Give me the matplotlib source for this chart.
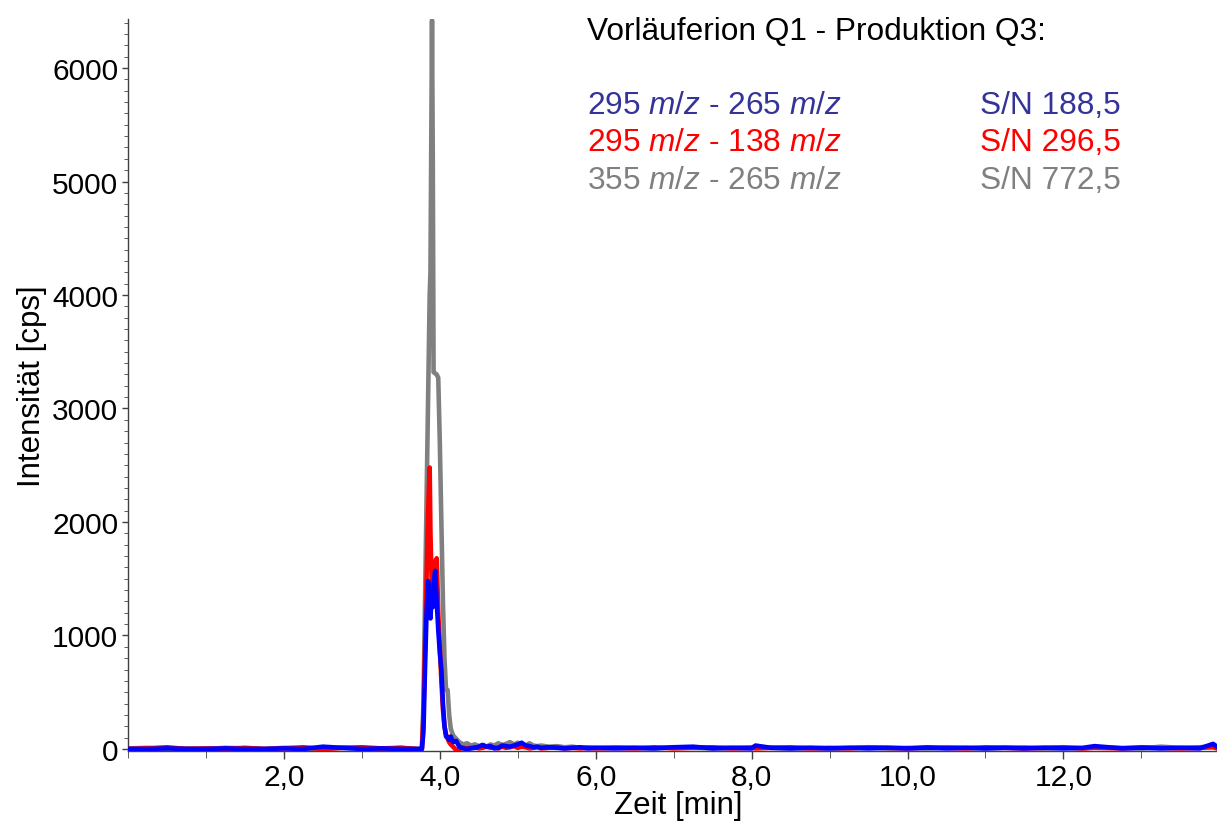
import matplotlib
matplotlib.use("Agg")
import matplotlib.pyplot as plt
from matplotlib.ticker import MultipleLocator, FuncFormatter
import numpy as np

plt.rcParams['font.family'] = ['Liberation Sans', 'DejaVu Sans']
plt.rcParams['mathtext.fontset'] = 'custom'
plt.rcParams['mathtext.rm'] = 'Liberation Sans'
plt.rcParams['mathtext.it'] = 'Liberation Sans:italic'

# ---- data (time in min, intensity in cps) ----
t_pre = [0.0, 0.25, 0.5, 0.75, 1.0, 1.25, 1.5, 1.75, 2.0, 2.25, 2.5, 2.75, 3.0, 3.25, 3.5, 3.7]
t_peak = [3.73, 3.77, 3.79, 3.81, 3.83, 3.85, 3.87, 3.88, 3.90, 3.91, 3.92, 3.94, 3.96, 3.98,
          4.00, 4.02, 4.04, 4.06, 4.08, 4.10, 4.12, 4.14, 4.17, 4.21, 4.25, 4.30, 4.35, 4.40,
          4.45, 4.50, 4.55, 4.60, 4.65, 4.70, 4.75, 4.80, 4.85, 4.90, 4.95, 5.00, 5.05, 5.10,
          5.15, 5.20, 5.25, 5.30, 5.40, 5.50, 5.60, 5.70, 5.80, 5.90, 6.00]
t_post = [6.25, 6.5, 6.75, 7.0, 7.25, 7.5, 7.75, 8.0, 8.05, 8.25, 8.5, 8.75, 9.0, 9.25, 9.5, 9.75,
          10.0, 10.25, 10.5, 10.75, 11.0, 11.25, 11.5, 11.75, 12.0, 12.25, 12.4, 12.75, 13.0,
          13.25, 13.5, 13.75, 13.92, 13.97]

gray_pre = [5, 10, 0, 5, 0, 10, 5, 0, 10, 5, 0, 10, 5, 0, 10, 0]
gray_peak = [0, 0, 400, 1300, 2200, 3100, 4000, 4200, 6420, 5200, 3320, 3310, 3300, 3270,
             2700, 2000, 1300, 800, 520, 520, 300, 180, 120, 90, 60, 40, 50, 30,
             40, 25, 35, 20, 40, 30, 50, 35, 45, 60, 40, 55, 40, 30,
             50, 30, 25, 30, 20, 25, 15, 20, 10, 15, 10]
gray_post = [15, 10, 5, 15, 10, 5, 10, 15, 20, 10, 5, 10, 5, 10, 15, 5,
             10, 5, 15, 10, 5, 10, 15, 5, 10, 5, 15, 10, 5, 20, 10, 15, 25, 10]

red_pre = [0, 5, 15, 0, 5, 0, 10, 0, 5, 15, 0, 10, 15, 5, 10, 0]
red_peak = [0, 0, 300, 900, 1500, 2100, 2480, 1900, 1350, 1500, 1400, 1650, 1680, 1200,
            900, 600, 350, 200, 130, 90, 60, 40, 20, -10, 0, 10, 5, 10,
            15, 5, 10, 20, 10, 15, 5, 20, 10, 15, 25, 10, 20, 15,
            5, 10, 15, 5, 10, 15, 5, 10, 5, 10, 5]
red_post = [10, 5, 15, 5, 10, 15, 5, 10, 5, 10, 15, 5, 10, 5, 15, 10,
            5, 15, 10, 5, 15, 10, 5, 10, 15, 5, 10, 5, 15, 10, 5, 10, 15, 5]

blue_pre = [0, 0, 5, 0, 0, 5, 0, 0, 5, 0, 20, 10, 0, 5, 0, 0]
blue_peak = [0, 0, 150, 700, 1200, 1480, 1300, 1150, 1400, 1250, 1450, 1570, 1300, 1050,
             850, 700, 400, 200, 110, 100, 80, 110, 60, 70, 20, 5, 0, 5,
             10, 20, 35, 20, 25, 5, 10, 30, 25, 20, 30, 40, 55, 30,
             25, 15, 20, 10, 15, 10, 5, 10, 15, 5, 10]
blue_post = [5, 10, 5, 15, 20, 5, 10, 5, 30, 10, 5, 10, 5, 10, 5, 10,
             5, 10, 5, 10, 5, 10, 5, 10, 5, 10, 25, 5, 10, 5, 10, 5, 45, 20]

times = t_pre + t_peak + t_post
gray_vals = gray_pre + gray_peak + gray_post
red_vals = red_pre + red_peak + red_post
blue_vals = blue_pre + blue_peak + blue_post

y_ticks = [0, 1000, 2000, 3000, 4000, 5000, 6000]
x_ticks = [2.0, 4.0, 6.0, 8.0, 10.0, 12.0]

legend_rows = [r"295 $\it{m/z}$ - 265 $\it{m/z}$",
               r"295 $\it{m/z}$ - 138 $\it{m/z}$",
               r"355 $\it{m/z}$ - 265 $\it{m/z}$"]
sn_rows = ["S/N 188,5", "S/N 296,5", "S/N 772,5"]
text_colors = ["#333399", "#ff0000", "#808080"]

# ---- figure ----
W, H = 1217, 828
fig = plt.figure(figsize=(W / 100, H / 100), dpi=100)
ax = fig.add_axes([128 / W, 1 - 752 / H, (W - 128) / W, (752 - 20) / H])

lw = 3.3
ax.plot(times, gray_vals, color="#808080", lw=lw, zorder=2)
ax.plot(times, red_vals, color="#ff0000", lw=lw, zorder=3)
ax.plot(times, blue_vals, color="#0000ff", lw=lw, zorder=4)

ax.set_xlim(0, 13.97)
ax.set_ylim(-18, 6432)

ax.spines['top'].set_visible(False)
ax.spines['right'].set_visible(False)
for s in ['left', 'bottom']:
    ax.spines[s].set_color('#404040')
    ax.spines[s].set_linewidth(1.0)

ax.set_xticks(x_ticks)
ax.xaxis.set_minor_locator(MultipleLocator(1.0))
ax.xaxis.set_major_formatter(FuncFormatter(lambda v, p: f"{v:.1f}".replace('.', ',')))
ax.set_yticks(y_ticks)
ax.yaxis.set_minor_locator(MultipleLocator(100))

ax.tick_params(axis='both', which='major', labelsize=21.5, color='#404040', width=1.0)
ax.tick_params(axis='x', which='major', length=6, pad=3)
ax.tick_params(axis='x', which='minor', length=5, color='#404040')
ax.tick_params(axis='y', which='major', length=4, pad=3)
ax.tick_params(axis='y', which='minor', length=3, color='#404040')

ax.set_xlabel("Zeit [min]", fontsize=22.5, labelpad=0)
ax.xaxis.set_label_coords((678 - 128) / (W - 128), -0.053, transform=ax.transAxes)
ax.xaxis.label.set_va('top')
ax.set_ylabel("Intensität [cps]", fontsize=22.5, labelpad=4)

# annotation block
fig.text(587 / W, 1 - 40 / H, "Vorläuferion Q1 - Produktion Q3:", fontsize=22.8,
         color='black', ha='left', va='baseline')
baselines = [114, 151, 189]
for row, sn, c, yb in zip(legend_rows, sn_rows, text_colors, baselines):
    fig.text(587 / W, 1 - yb / H, row, fontsize=22.8, color=c, ha='left', va='baseline')
    fig.text(980 / W, 1 - yb / H, sn, fontsize=22.8, color=c, ha='left', va='baseline')

fig.savefig("out.png", dpi=100)
